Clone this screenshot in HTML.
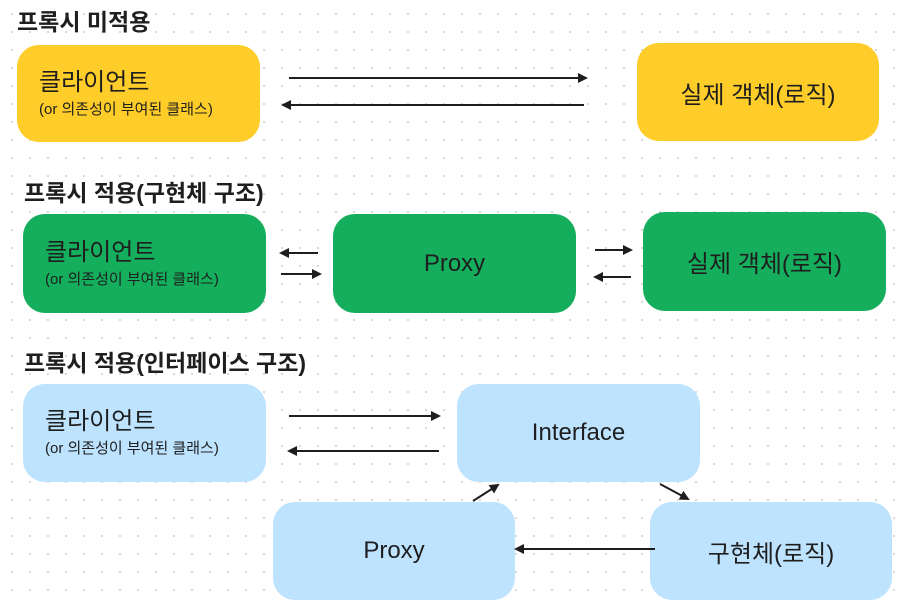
<!DOCTYPE html>
<html><head><meta charset="utf-8"><style>
body{margin:0;width:907px;height:605px;overflow:hidden;background:#fff;
background-image:radial-gradient(circle,#d0d0d0 0.8px,transparent 1.2px);background-size:18px 18px;background-position:3px 5px;
font-family:"Liberation Sans","Noto Sans CJK KR",sans-serif;color:#1e1e1e;position:relative}
.t{position:absolute;font-weight:bold;font-size:23px;line-height:1}
.b{position:absolute;border-radius:22px;display:flex;flex-direction:column;justify-content:center;box-sizing:border-box}
.y{background:#FFCD29}.g{background:#14AE5C}.l{background:#BDE3FF}
.c{padding-left:22px}
.c .m{font-size:24px;line-height:32px}.c .s{font-size:15px;line-height:22px}
.ctr{align-items:center;font-size:24px}
svg{position:absolute;left:0;top:0}
</style></head><body>
<div class="t" style="left:17px;top:11px">프록시 미적용</div>
<div class="t" style="left:24px;top:182px">프록시 적용(구현체 구조)</div>
<div class="t" style="left:24px;top:352px">프록시 적용(인터페이스 구조)</div>

<div class="b y c" style="left:17px;top:45px;width:243px;height:97px"><div class="m">클라이언트</div><div class="s">(or 의존성이 부여된 클래스)</div></div>
<div class="b y ctr" style="left:637px;top:43px;width:242px;height:98px">실제 객체(로직)</div>

<div class="b g c" style="left:23px;top:214px;width:243px;height:99px"><div class="m">클라이언트</div><div class="s">(or 의존성이 부여된 클래스)</div></div>
<div class="b g ctr" style="left:333px;top:214px;width:243px;height:99px">Proxy</div>
<div class="b g ctr" style="left:643px;top:212px;width:243px;height:99px">실제 객체(로직)</div>

<div class="b l c" style="left:23px;top:384px;width:243px;height:98px"><div class="m">클라이언트</div><div class="s">(or 의존성이 부여된 클래스)</div></div>
<div class="b l ctr" style="left:457px;top:384px;width:243px;height:98px">Interface</div>
<div class="b l ctr" style="left:273px;top:502px;width:242px;height:98px">Proxy</div>
<div class="b l ctr" style="left:650px;top:502px;width:242px;height:98px">구현체(로직)</div>

<svg width="907" height="605">
<defs><marker id="a" markerWidth="10" markerHeight="10" refX="8" refY="5" orient="auto" markerUnits="userSpaceOnUse"><path d="M0,0 L10,5 L0,10 z" fill="#1e1e1e"/></marker></defs>
<g stroke="#1e1e1e" stroke-width="2" marker-end="url(#a)">
<line x1="289" y1="78" x2="586" y2="78"/>
<line x1="584" y1="105" x2="283" y2="105"/>
<line x1="318" y1="253" x2="281" y2="253"/>
<line x1="281" y1="274" x2="320" y2="274"/>
<line x1="595" y1="250" x2="631" y2="250"/>
<line x1="631" y1="277" x2="595" y2="277"/>
<line x1="289" y1="416" x2="439" y2="416"/>
<line x1="439" y1="451" x2="289" y2="451"/>
<line x1="473" y1="501" x2="498" y2="485"/>
<line x1="660" y1="484" x2="688" y2="499"/>
<line x1="655" y1="549" x2="516" y2="549"/>
</g></svg>
</body></html>
